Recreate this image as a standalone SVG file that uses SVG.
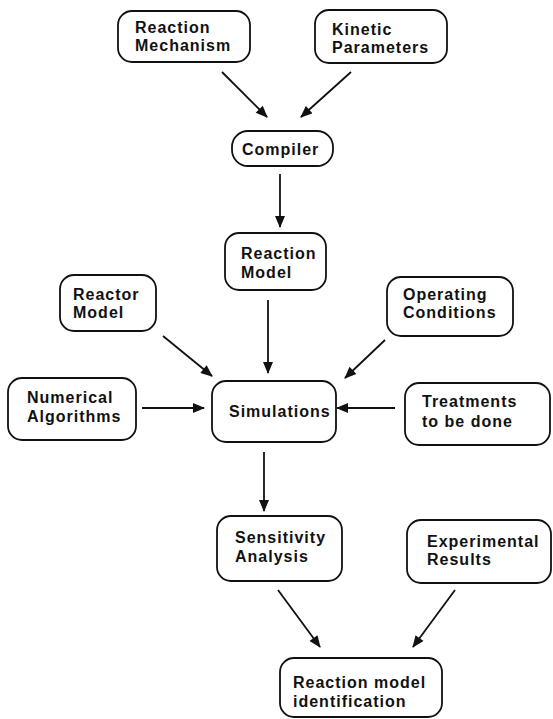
<svg xmlns="http://www.w3.org/2000/svg" width="553" height="719" viewBox="0 0 553 719">
<style>
.box{fill:#fff;stroke:#111;stroke-width:1.8}
.t{font-family:"Liberation Sans",Arial,sans-serif;font-weight:bold;font-size:16px;letter-spacing:1px;fill:#111}
.c{stroke:#111;stroke-width:1.8;fill:none;marker-end:url(#ah)}
</style>
<defs>
<marker id="ah" viewBox="0 0 12 10" refX="11" refY="5" markerWidth="13" markerHeight="10" markerUnits="userSpaceOnUse" orient="auto">
<path d="M0,0 L12,5 L0,10 z" fill="#111"/>
</marker>
</defs>
<rect width="553" height="719" fill="#fff"/>
<g id="connectors">
<line class="c" x1="222" y1="72" x2="267" y2="117"/>
<line class="c" x1="351" y1="72" x2="301" y2="117"/>
<line class="c" x1="280" y1="174" x2="280" y2="227"/>
<line class="c" x1="268" y1="300" x2="268" y2="373"/>
<line class="c" x1="163" y1="336" x2="212" y2="376"/>
<line class="c" x1="385" y1="340" x2="345" y2="378"/>
<line class="c" x1="142" y1="408" x2="204" y2="408"/>
<line class="c" x1="395" y1="408" x2="337" y2="408"/>
<line class="c" x1="264" y1="452" x2="264" y2="511"/>
<line class="c" x1="278" y1="590" x2="320" y2="647"/>
<line class="c" x1="455" y1="590" x2="413" y2="647"/>
</g>
<g id="reaction-mechanism">
<rect class="box" x="118" y="11" width="132" height="51" rx="14"/>
<text class="t" x="135" y="33">Reaction</text>
<text class="t" x="135" y="51">Mechanism</text>
</g>
<g id="kinetic-parameters">
<rect class="box" x="315" y="10" width="132" height="53" rx="14"/>
<text class="t" x="332" y="35">Kinetic</text>
<text class="t" x="332" y="53">Parameters</text>
</g>
<g id="compiler">
<rect class="box" x="232" y="131" width="101" height="35" rx="16"/>
<text class="t" x="242" y="155">Compiler</text>
</g>
<g id="reaction-model">
<rect class="box" x="225" y="233" width="101" height="57" rx="14"/>
<text class="t" x="241" y="259">Reaction</text>
<text class="t" x="241" y="278">Model</text>
</g>
<g id="reactor-model">
<rect class="box" x="60" y="275" width="96" height="56" rx="14"/>
<text class="t" x="73" y="300">Reactor</text>
<text class="t" x="73" y="318">Model</text>
</g>
<g id="operating-conditions">
<rect class="box" x="387" y="277" width="126" height="59" rx="14"/>
<text class="t" x="403" y="300">Operating</text>
<text class="t" x="403" y="318">Conditions</text>
</g>
<g id="numerical-algorithms">
<rect class="box" x="8" y="378" width="128" height="62" rx="14"/>
<text class="t" x="27" y="403">Numerical</text>
<text class="t" x="27" y="422">Algorithms</text>
</g>
<g id="simulations">
<rect class="box" x="212" y="381" width="124" height="61" rx="14"/>
<text class="t" x="229" y="417">Simulations</text>
</g>
<g id="treatments">
<rect class="box" x="405" y="383" width="145" height="62" rx="14"/>
<text class="t" x="422" y="407">Treatments</text>
<text class="t" x="422" y="427">to be done</text>
</g>
<g id="sensitivity-analysis">
<rect class="box" x="217" y="516" width="125" height="65" rx="14"/>
<text class="t" x="235" y="543">Sensitivity</text>
<text class="t" x="235" y="562">Analysis</text>
</g>
<g id="experimental-results">
<rect class="box" x="407" y="520" width="144" height="63" rx="14"/>
<text class="t" x="427" y="547">Experimental</text>
<text class="t" x="427" y="565">Results</text>
</g>
<g id="reaction-model-identification">
<rect class="box" x="280" y="658" width="162" height="59" rx="14"/>
<text class="t" x="293" y="688">Reaction model</text>
<text class="t" x="293" y="707">identification</text>
</g>
</svg>
